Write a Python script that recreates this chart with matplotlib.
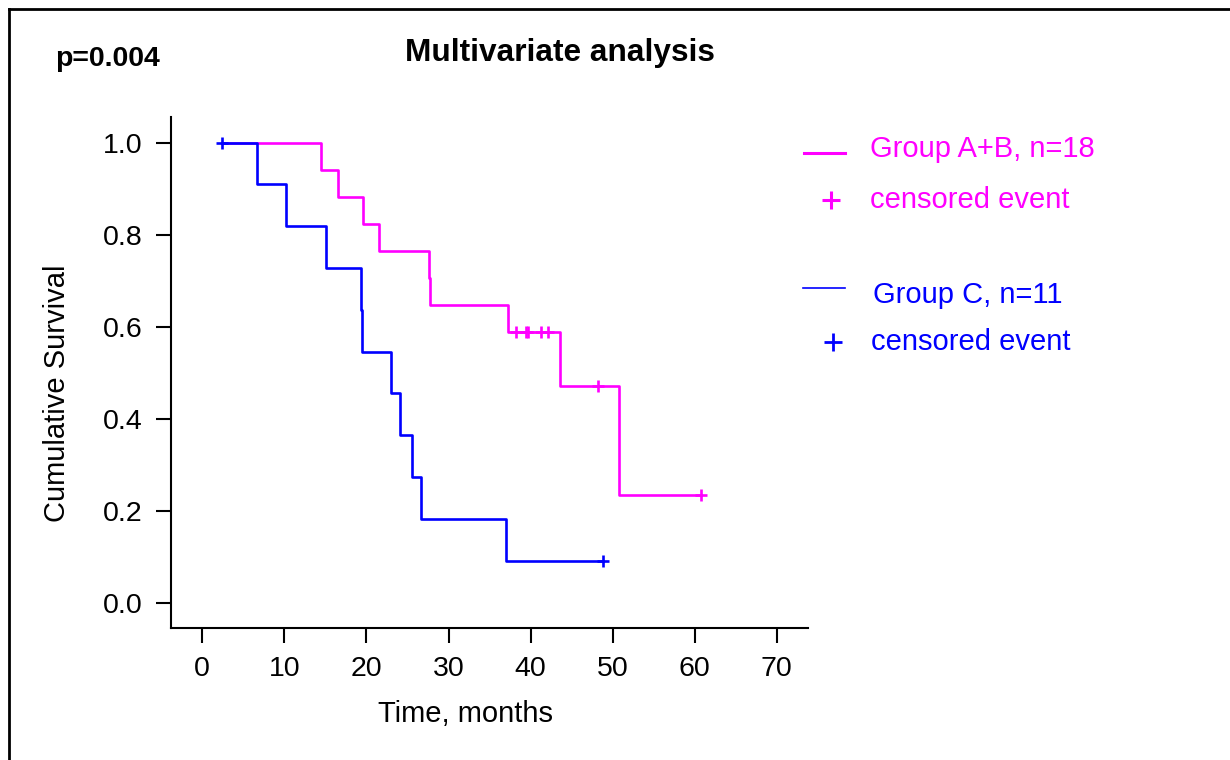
import matplotlib
matplotlib.use("Agg")
import matplotlib.pyplot as plt
from matplotlib.lines import Line2D

plt.rcParams['font.family'] = ['Liberation Sans', 'DejaVu Sans']

# ---- data ----
ab_times = [2.35, 14.5, 16.5, 19.6, 21.5, 27.66, 27.78, 37.3, 43.6, 50.8, 60.8]
ab_surv = [1.0, 0.941, 0.882, 0.824, 0.765, 0.706, 0.647, 0.588, 0.471, 0.235, 0.235]
ab_cens_t = [38.2, 39.4, 39.7, 41.3, 42.1, 48.2, 60.8]
ab_cens_s = [0.588, 0.588, 0.588, 0.588, 0.588, 0.471, 0.235]

c_times = [2.35, 6.7, 10.2, 15.1, 19.33, 19.45, 23.0, 24.1, 25.5, 26.7, 37.0, 48.8]
c_surv = [1.0, 0.909, 0.818, 0.727, 0.636, 0.545, 0.455, 0.364, 0.273, 0.182, 0.091, 0.091]
c_cens_t = [2.35, 48.8]
c_cens_s = [1.0, 0.091]

x_ticks = [0, 10, 20, 30, 40, 50, 60, 70]
y_ticks = [0.0, 0.2, 0.4, 0.6, 0.8, 1.0]
y_tick_labels = ["0.0", "0.2", "0.4", "0.6", "0.8", "1.0"]

MAG = '#ff00ff'
BLUE = '#0000ff'

W, H = 1230, 760
fig = plt.figure(figsize=(W / 100, H / 100), dpi=100)


def fx(x):
    return x / W


def fy(y):
    return 1 - y / H


ax = fig.add_axes([fx(170.7), fy(627.7), fx(808) - fx(170.7), fy(117.3) - fy(627.7)])

ax.step(ab_times, ab_surv, where='post', color=MAG, lw=1.9, zorder=2)
ax.plot(ab_cens_t, ab_cens_s, ls='none', marker='+', ms=9, mew=1.9, color=MAG, zorder=3)
ax.step(c_times, c_surv, where='post', color=BLUE, lw=1.9, zorder=4)
ax.plot(c_cens_t, c_cens_s, ls='none', marker='+', ms=9, mew=1.9, color=BLUE, zorder=5)

ax.set_xlim(-3.85, 73.8)
ax.set_ylim(-0.0543, 1.055)
ax.set_xticks(x_ticks)
ax.set_xticklabels([str(v) for v in x_ticks])
ax.set_yticks(y_ticks)
ax.set_yticklabels(y_tick_labels)
for s in ['top', 'right']:
    ax.spines[s].set_visible(False)
for s in ['left', 'bottom']:
    ax.spines[s].set_linewidth(1.5)
ax.tick_params(length=10.5, width=1.5, labelsize=20.5, pad=10, direction='out')

fig.text(fx(57), fy(393), 'Cumulative Survival', rotation=90, fontsize=21,
         ha='center', va='center')
fig.text(fx(465), fy(714), 'Time, months', fontsize=21, ha='center', va='center')
fig.text(fx(560), fy(60.7), 'Multivariate analysis', fontsize=22.8, fontweight='bold',
         ha='center', va='baseline')
fig.text(fx(55), fy(66.5), 'p=0.004', fontsize=20.5, fontweight='bold',
         ha='left', va='baseline')

# legend (manual layout)
fig.add_artist(Line2D([fx(804), fx(845)], [fy(153), fy(153)], color=MAG, lw=2.2))
fig.add_artist(Line2D([fx(830.7)], [fy(200)], color=MAG, marker='+', ms=13, mew=2.2))
fig.add_artist(Line2D([fx(803), fx(845)], [fy(287.7), fy(287.7)], color=BLUE, lw=1.2))
fig.add_artist(Line2D([fx(832.7)], [fy(341.7)], color=BLUE, marker='+', ms=13, mew=2.0))
fig.text(fx(870), fy(157.3), 'Group A+B, n=18', color=MAG, fontsize=21, va='baseline')
fig.text(fx(870), fy(208.3), 'censored event', color=MAG, fontsize=21, va='baseline')
fig.text(fx(872.7), fy(303.3), 'Group C, n=11', color=BLUE, fontsize=21, va='baseline')
fig.text(fx(871), fy(350), 'censored event', color=BLUE, fontsize=21, va='baseline')

# outer frame (only top and left edges visible in the reference)
fig.add_artist(Line2D([fx(9), fx(1230)], [fy(9), fy(9)], color='black', lw=2))
fig.add_artist(Line2D([fx(9), fx(9)], [fy(9), fy(760)], color='black', lw=2))

fig.savefig('out.png', dpi=100)
